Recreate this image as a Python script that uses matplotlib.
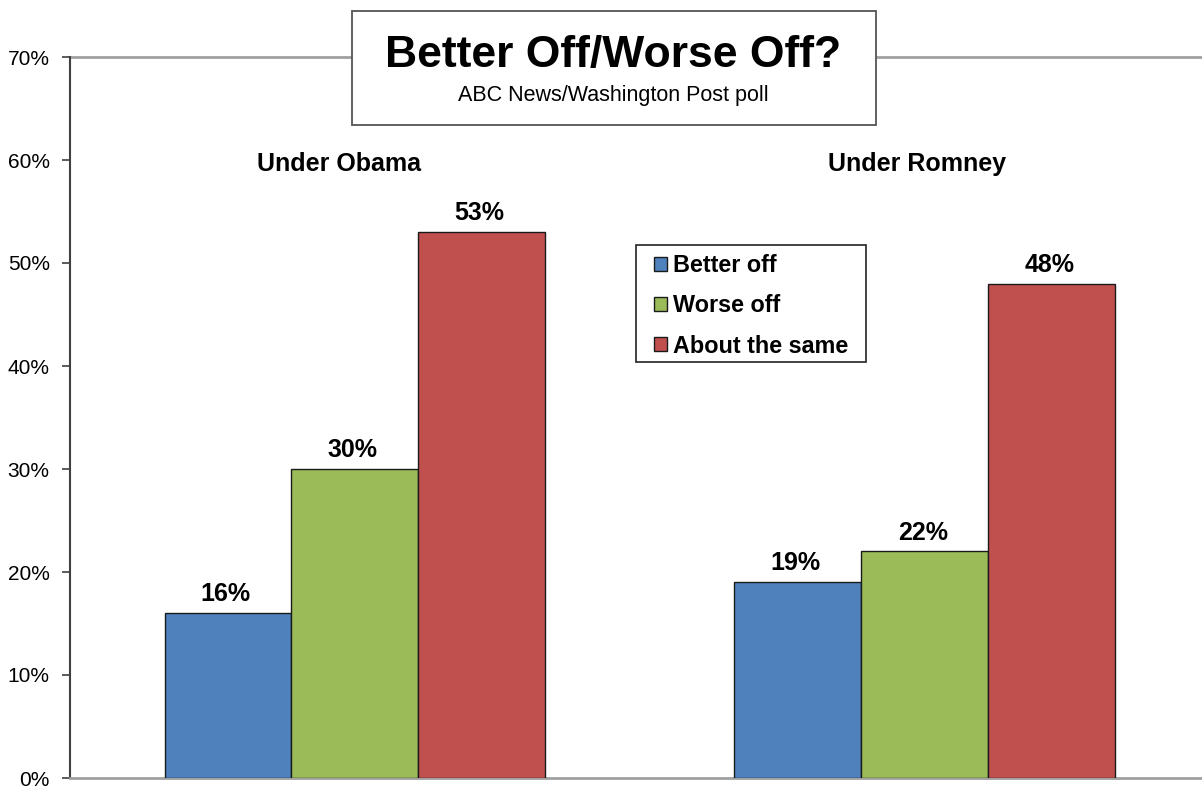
import numpy as np
import matplotlib.pyplot as plt
from matplotlib.patches import Rectangle

plt.rcParams['font.family'] = ['Liberation Sans', 'DejaVu Sans']

# Data
groups = ['Under Obama', 'Under Romney']
series = ['Better off', 'Worse off', 'About the same']
better_off = [16, 19]
worse_off = [30, 22]
about_same = [53, 48]
colors = ['#4F81BD', '#9BBB59', '#C0504D']
yticks = [0, 10, 20, 30, 40, 50, 60, 70]

W, H = 1202, 788
fig = plt.figure(figsize=(W / 100, H / 100), dpi=100)
ax = fig.add_axes([70 / W, 10 / H, (W - 70) / W, 721 / H])

x = np.arange(len(groups))
width = 0.2228
values = [better_off, worse_off, about_same]
for i, (vals, col, name) in enumerate(zip(values, colors, series)):
    pos = x + (i - 1) * width
    bars = ax.bar(pos, vals, width, color=col, edgecolor='#1a1a1a', linewidth=1.0,
                  label=name, zorder=3)
    for b, v in zip(bars, vals):
        ax.text(b.get_x() + b.get_width() / 2 - 0.004, v + 1.15, f'{v}%', ha='center',
                va='baseline', fontsize=18, fontweight='bold')

ax.set_xlim(-0.5, 1.486)
ax.set_ylim(0, 70)
ax.set_yticks(yticks)
ax.set_yticklabels([f'{t}%' for t in yticks], fontsize=15)
ax.set_xticks([])
ax.tick_params(axis='y', direction='out', length=6, width=1.2, color='#404040', pad=8.6)
ax.axhline(70, color='#A0A0A0', linewidth=2, zorder=1, clip_on=False)

for s in ['top', 'right']:
    ax.spines[s].set_visible(False)
ax.spines['left'].set_color('#404040')
ax.spines['left'].set_linewidth(1.5)
ax.spines['bottom'].set_color('#A0A0A0')
ax.spines['bottom'].set_linewidth(2)

# group labels
ax.text(x[0] - 0.028, 59.6, groups[0], ha='center', va='center', fontsize=18, fontweight='bold')
ax.text(x[1] - 0.014, 59.6, groups[1], ha='center', va='center', fontsize=18, fontweight='bold')

# title box
fig.patches.append(Rectangle((352 / W, 1 - 125 / H), 524 / W, 114 / H, transform=fig.transFigure,
                             facecolor='white', edgecolor='#555555', linewidth=1.3, zorder=5))
fig.text(613 / W, 1 - 56 / H, 'Better Off/Worse Off?', ha='center', va='center',
         fontsize=32, fontweight='bold', zorder=6)
fig.text(613 / W, 1 - 96 / H, 'ABC News/Washington Post poll', ha='center', va='center',
         fontsize=15.5, zorder=6)

# legend: frame drawn separately so padding matches the original
ax.add_patch(Rectangle((636 / W, 1 - 362 / H), 230 / W, 117 / H, transform=fig.transFigure,
                       facecolor='white', edgecolor='#222222', linewidth=1.2, zorder=4,
                       clip_on=False))
leg = ax.legend(loc='upper left', bbox_to_anchor=(654 / W, 1 - 254 / H),
                bbox_transform=fig.transFigure, frameon=False,
                prop={'weight': 'bold', 'size': 16.8}, handlelength=0.55, handleheight=0.55,
                handletextpad=0.25, labelspacing=0.74, borderpad=0, borderaxespad=0)
leg.set_zorder(6)

fig.savefig('out.png', dpi=100)
